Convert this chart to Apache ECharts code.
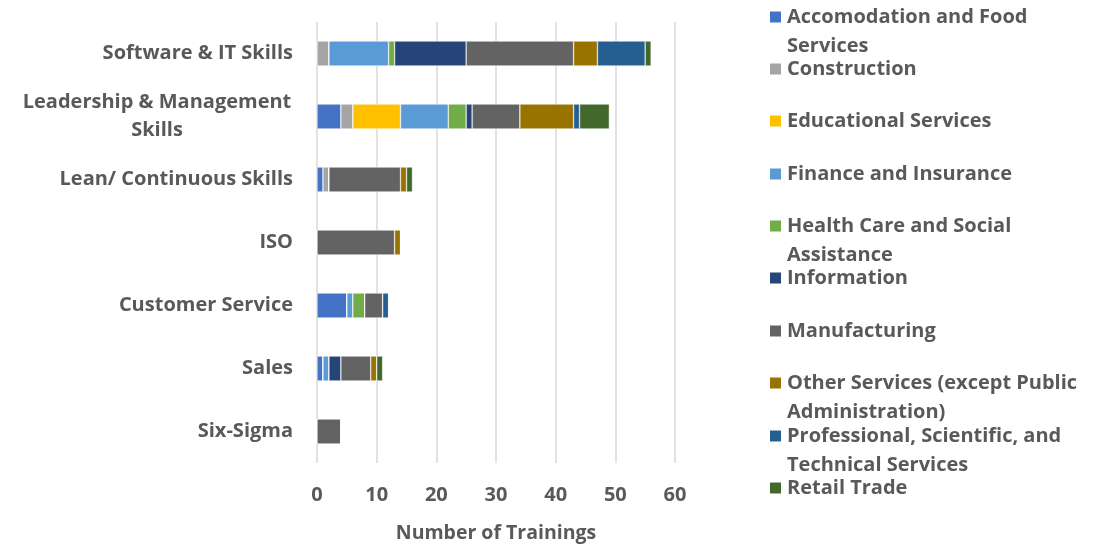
<!DOCTYPE html>
<html>
<head>
<meta charset="utf-8">
<script src="https://cdn.jsdelivr.net/npm/echarts@6/dist/echarts.min.js"></script>
<style>
  html, body { margin: 0; padding: 0; background: #fff; }
  #chart { width: 1107px; height: 545px; }
</style>
</head>
<body>
<div id="chart"></div>
<script>
const categories = ['Software & IT Skills', 'Leadership & Management Skills', 'Lean/ Continuous Skills',
    'ISO', 'Customer Service', 'Sales', 'Six-Sigma'];
const industries = ['Accomodation and Food Services', 'Construction', 'Educational Services',
    'Finance and Insurance', 'Health Care and Social Assistance', 'Information', 'Manufacturing',
    'Other Services (except Public Administration)', 'Professional, Scientific, and Technical Services',
    'Retail Trade'];
const legendLabels = ['Accomodation and Food\nServices', 'Construction', 'Educational Services',
    'Finance and Insurance', 'Health Care and Social\nAssistance', 'Information', 'Manufacturing',
    'Other Services (except Public\nAdministration)', 'Professional, Scientific, and\nTechnical Services',
    'Retail Trade'];
const colors = ['#4472C4', '#A5A5A5', '#FFC000', '#5B9BD5', '#70AD47', '#264478', '#636363',
    '#997300', '#255E91', '#43682B'];

// one array per industry, values in category order
const accomodation = [0, 4, 1, 0, 5, 1, 0];
const construction = [2, 2, 1, 0, 0, 0, 0];
const educational = [0, 8, 0, 0, 0, 0, 0];
const finance = [10, 8, 0, 0, 1, 1, 0];
const health = [1, 3, 0, 0, 2, 0, 0];
const information = [12, 1, 0, 0, 0, 2, 0];
const manufacturing = [18, 8, 12, 13, 3, 5, 4];
const otherServices = [4, 9, 1, 1, 0, 1, 0];
const professional = [8, 1, 0, 0, 1, 0, 0];
const retail = [1, 5, 1, 0, 0, 1, 0];
const seriesValues = [accomodation, construction, educational, finance, health, information,
    manufacturing, otherServices, professional, retail];

const xTicks = [0, 10, 20, 30, 40, 50, 60];

const font = 'Open Sans';
const textColor = '#595959';
const legendTops = [17, 69, 121, 174, 226, 278, 331, 383, 436, 488];
const lh = 29;

let chart = echarts.init(document.getElementById('chart'));

// one legend per item so the spacing stays even and the icon sits on the first line
let legends = industries.map((name, i) => {
    let twoLines = legendLabels[i].indexOf('\n') >= 0;
    return {
        data: [name],
        orient: 'vertical',
        left: 768,
        top: twoLines ? legendTops[i] - 1.5 * lh : legendTops[i] - 0.5 * lh,
        padding: 0,
        itemWidth: 13,
        itemHeight: 13,
        icon: 'rect',
        selectedMode: false,
        formatter: () => (twoLines ? '\n' : '') + legendLabels[i],
        textStyle: {
            fontFamily: font,
            fontWeight: 'bold',
            fontSize: 20,
            color: textColor,
            lineHeight: lh
        }
    };
});

chart.setOption({
    animation: false,
    color: colors,
    legend: legends,
    grid: { left: 317, right: 432, top: 22, bottom: 82, outerBoundsMode: 'none' },
    xAxis: {
        type: 'value',
        min: 0,
        max: 60,
        interval: 10,
        name: 'Number of Trainings',
        nameLocation: 'middle',
        nameGap: 60,
        nameTextStyle: { fontFamily: font, fontWeight: 'bold', fontSize: 19.5, color: textColor },
        axisLine: { show: false },
        axisTick: { show: false },
        axisLabel: {
            fontFamily: font, fontWeight: 'bold', fontSize: 20, color: textColor, margin: 22,
            formatter: v => xTicks.indexOf(v) >= 0 ? String(v) : ''
        },
        splitLine: { lineStyle: { color: '#D9D9D9', width: 1.5 } }
    },
    yAxis: {
        type: 'category',
        inverse: true,
        data: categories,
        axisLine: { show: false },
        axisTick: { show: false },
        axisLabel: {
            margin: 24,
            align: 'right',
            fontFamily: font,
            fontWeight: 'bold',
            fontSize: 20,
            color: textColor,
            formatter: v => {
                if (v === 'Leadership & Management Skills') {
                    return '{c|Leadership & Management}\n{c|Skills}';
                }
                return v;
            },
            rich: {
                c: {
                    width: 272,
                    align: 'center',
                    fontFamily: font,
                    fontWeight: 'bold',
                    fontSize: 20,
                    color: textColor,
                    lineHeight: 28
                }
            }
        }
    },
    series: industries.map((name, i) => ({
        name: name,
        type: 'bar',
        stack: 'total',
        barWidth: 25,
        data: seriesValues[i],
        itemStyle: { color: colors[i], borderColor: '#ffffff', borderWidth: 0.5 }
    }))
});
</script>
</body>
</html>
